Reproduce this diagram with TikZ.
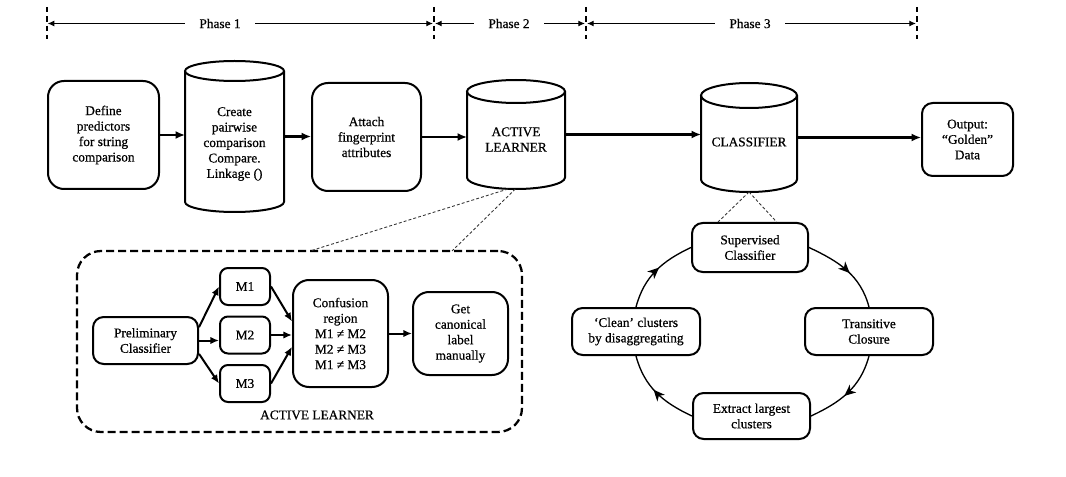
\documentclass[tikz,border=0pt]{standalone}
\usepackage{fontspec}
\setmainfont[FakeBold=0.6]{Liberation Serif}
\usetikzlibrary{arrows.meta,calc,decorations.markings}
\newcommand\drawcyl[3]{%
  \draw[cylline] ($(#1.north west)+(0,-#3)$) -- ($(#1.south west)+(0,#3)$)
    arc[start angle=180,end angle=360,x radius=#2,y radius=#3]
    -- ($(#1.north east)+(0,-#3)$);
  \draw[cylline] ($(#1.north)+(0,-#3)$) ellipse[x radius=#2,y radius=#3];
}
\tikzset{
  txt/.style={font=\fontsize{10}{11.6}\selectfont, align=center, inner sep=0pt},
  sz/.style 2 args={minimum width=#1*0.75pt, minimum height=#2*0.75pt},
  rbox/.style={txt, draw, line width=1.5pt, rounded corners=#1},
  rbox/.default=10pt,
  cylbody/.style={txt, outer sep=0pt},
  cylline/.style={line width=1.5pt},
  flow/.style={line width=1.7pt, -{Latex[length=7pt,width=6pt]}},
  inflow/.style={line width=1.5pt, -{Latex[length=6.5pt,width=5.5pt]}},
  parr/.style={line width=0.75pt, -{Latex[length=5pt,width=4.5pt]}},
  tickline/.style={line width=1.2pt, dash pattern=on 4pt off 3pt},
  dotline/.style={line width=0.65pt, black!80, dash pattern=on 2.2pt off 1.6pt},
  dashframe/.style={draw, line width=1.7pt, dash pattern=on 6pt off 3pt, rounded corners=18pt},
  cyc/.style={line width=1pt, postaction={decorate},
    decoration={markings, mark=at position 0.55 with {\arrow{Stealth[length=8.5pt,width=7.5pt,inset=2.5pt]}}}}
}
\begin{document}
\begin{tikzpicture}[x=0.75pt,y=0.75pt]
\path[use as bounding box, fill=white] (0,0) rectangle (1066,-477);

% phase bar
\foreach \x in {47,434,586,917} \draw[tickline] (\x,-7) -- (\x,-39);
\coordinate (t0) at (47,-23.5);
\coordinate (t1) at (434,-23.5);
\coordinate (t2) at (586,-23.5);
\coordinate (t3) at (917,-23.5);
\node[txt, inner xsep=11pt] (p1) at (220,-23.5) {Phase 1};
\node[txt, inner xsep=11pt] (p2) at (509,-23.5) {Phase 2};
\node[txt, inner xsep=11pt] (p3) at (750,-23.5) {Phase 3};
\draw[parr] (p1.west) -- ([xshift=0.5pt]t0);
\draw[parr] (p1.east) -- ([xshift=-0.8pt]t1);
\draw[parr] (p2.west) -- ([xshift=0.8pt]t1);
\draw[parr] (p2.east) -- ([xshift=-0.8pt]t2);
\draw[parr] (p3.west) -- ([xshift=0.8pt]t2);
\draw[parr] (p3.east) -- ([xshift=-0.8pt]t3);

% top row
\node[rbox=12pt, sz={111}{108}] (b1) at (103.5,-135) {Define\\predictors\\for string\\comparison};
\node[cylbody, sz={99}{151}] (c1) at (234.5,-136.5) {};
\node[txt] (c1t) at (234.5,-144) {Create\\pairwise\\comparison\\Compare.\\Linkage ()};
\node[rbox=12pt, sz={109}{108}] (b3) at (366.5,-137) {Attach\\fingerprint\\attributes};
\node[cylbody, sz={98}{109}] (al) at (516,-134.5) {};
\node[txt] (alt) at (516,-139.5) {ACTIVE\\LEARNER};
\node[cylbody, sz={96}{109}] (cl) at (749,-137.5) {};
\node[txt] (clt) at (749,-142) {CLASSIFIER};
\node[rbox=8pt, sz={91}{73}] (out) at (967.5,-139.5) {Output:\\“Golden”\\Data};
\drawcyl{c1}{49.5}{10}
\drawcyl{al}{49}{11.5}
\drawcyl{cl}{48}{12.5}

\draw[flow] (b1.east) -- (b1.east -| c1.west);
\draw[flow] (c1.east) -- (c1.east -| b3.west);
\draw[flow] (b3.east) -- (b3.east -| al.west);
\draw[flow] (al.east) -- (al.east -| cl.west);
\draw[flow] (cl.east) -- (cl.east -| out.west);

% active learner detail
\node[dashframe, sz={445}{181}] (alf) at (299.5,-341.5) {};
\node[txt] (alfl) at (317,-415) {ACTIVE LEARNER};
\node[rbox=8pt, sz={105}{47}] (pre) at (145.5,-340.5) {Preliminary\\Classifier};
\node[rbox=6pt, sz={50}{37}] (m1) at (245,-286.5) {M1};
\node[rbox=6pt, sz={50}{37}] (m2) at (245,-335) {M2};
\node[rbox=6pt, sz={50}{37}] (m3) at (245,-383.5) {M3};
\node[rbox=12pt, sz={95}{107}] (conf) at (340.5,-333.5) {Confusion\\region\\M1 ≠ M2\\M2 ≠ M3\\M1 ≠ M3};
\node[rbox=12pt, sz={95}{83}] (get) at (460.5,-333.5) {Get\\canonical\\label\\manually};

\draw[inflow] ([yshift=10pt]pre.east) -- (m1.west);
\draw[inflow] (pre.east) -- (pre.east -| m2.west);
\draw[inflow] ([yshift=-10pt]pre.east) -- (m3.west);
\draw[inflow] (m1.east) -- ([yshift=9pt]conf.west);
\draw[inflow] (m2.east) -- (m2.east -| conf.west);
\draw[inflow] (m3.east) -- ([yshift=-10pt]conf.west);
\draw[inflow] (conf.east) -- (conf.east -| get.west);

\coordinate (f1) at (310,-251);
\coordinate (f2) at (452,-251);
\draw[dotline] ([xshift=-6pt]al.south) -- (f1);
\draw[dotline] ([xshift=-0.5pt]al.south) -- (f2);

% classifier cycle
\node[rbox=8pt, sz={116}{49}] (sup) at (750,-247.5) {Supervised\\Classifier};
\node[rbox=8pt, sz={128}{47}] (trans) at (869,-331.5) {Transitive\\Closure};
\node[rbox=8pt, sz={117}{46}] (ext) at (751.5,-416) {Extract largest\\clusters};
\node[rbox=8pt, sz={128}{47}] (clean) at (636,-331.5) {‘Clean’ clusters\\by disaggregating};

\draw[dotline] (cl.south) -- ([xshift=-24pt]sup.north);
\draw[dotline] (cl.south) -- ([xshift=20pt]sup.north);

\draw[cyc] (clean.north) to[out=75,in=205] (sup.west);
\draw[cyc] (sup.east) to[out=-25,in=105] (trans.north);
\draw[cyc] (trans.south) to[out=-105,in=25] (ext.east);
\draw[cyc] (ext.west) to[out=155,in=-75] (clean.south);
\end{tikzpicture}
\end{document}
